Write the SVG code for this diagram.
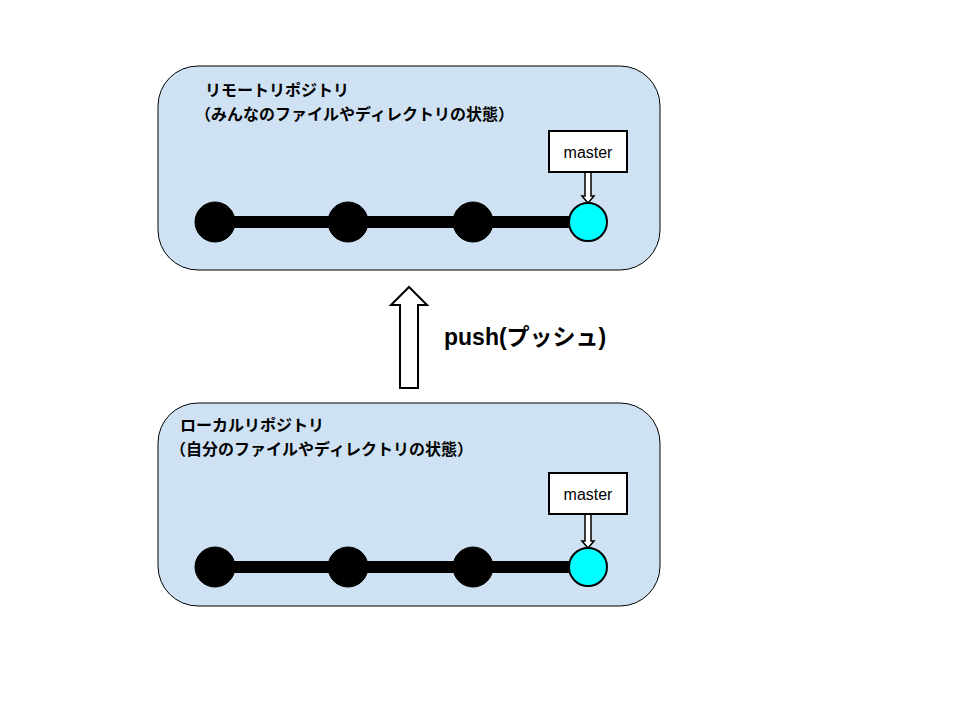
<svg xmlns="http://www.w3.org/2000/svg" width="960" height="720" viewBox="0 0 960 720">
<style>
.repo{fill:#cfe2f3;stroke:#000;stroke-width:1}
.t{font-family:"Liberation Sans","Noto Sans CJK JP",sans-serif;font-weight:bold;font-size:16px}
.m{font-family:"Liberation Sans",sans-serif;font-size:16px}
.c{fill:#000;stroke:#000}
.h{fill:#00ffff;stroke:#000;stroke-width:2}
.line{stroke:#000;stroke-width:12}
.lb{fill:#fff;stroke:#000;stroke-width:2}
.ar{fill:#fff;stroke:#000;stroke-width:2}
</style>
<rect width="960" height="720" fill="#fff"/>
<g id="remote">
<rect class="repo" x="158" y="66" width="502" height="204" rx="40"/>
<text class="t" x="205" y="96">リモートリポジトリ</text>
<text class="t" x="195" y="120">（みんなのファイルやディレクトリの状態）</text>
</g>
<g id="local">
<rect class="repo" x="158" y="403" width="502" height="203" rx="40"/>
<text class="t" x="180" y="431">ローカルリポジトリ</text>
<text class="t" x="170" y="455">（自分のファイルやディレクトリの状態）</text>
</g>
<g id="connectors">
<line class="line" x1="215" y1="222" x2="588" y2="222"/>
<line class="line" x1="215" y1="567" x2="588" y2="567"/>
<path class="ar" d="M400,388 V305 H391 L409,287 L427,305 H418 V388 Z"/>
<path class="ar" style="stroke-width:1.5" d="M585,172 V196 H582 L588,203 L594,196 H591 V172 Z"/>
<path class="ar" style="stroke-width:1.5" d="M585,514 V541 H582 L588,548 L594,541 H591 V514 Z"/>
</g>
<g id="remote-commits">
<circle class="c" cx="215" cy="222" r="20"/><circle class="c" cx="348" cy="222" r="20"/><circle class="c" cx="473" cy="222" r="20"/><circle class="h" cx="588" cy="222" r="19"/>
</g>
<g id="local-commits">
<circle class="c" cx="215" cy="567" r="20"/><circle class="c" cx="348" cy="567" r="20"/><circle class="c" cx="473" cy="567" r="20"/><circle class="h" cx="588" cy="567" r="19"/>
</g>
<g id="master-remote"><rect class="lb" x="549" y="131" width="78" height="41"/><text class="m" x="588" y="158" text-anchor="middle">master</text></g>
<g id="master-local"><rect class="lb" x="549" y="473" width="78" height="41"/><text class="m" x="588" y="500" text-anchor="middle">master</text></g>
<g id="push-label"><text class="t" x="444" y="345" style="font-size:23px">push(プッシュ)</text></g>
</svg>
